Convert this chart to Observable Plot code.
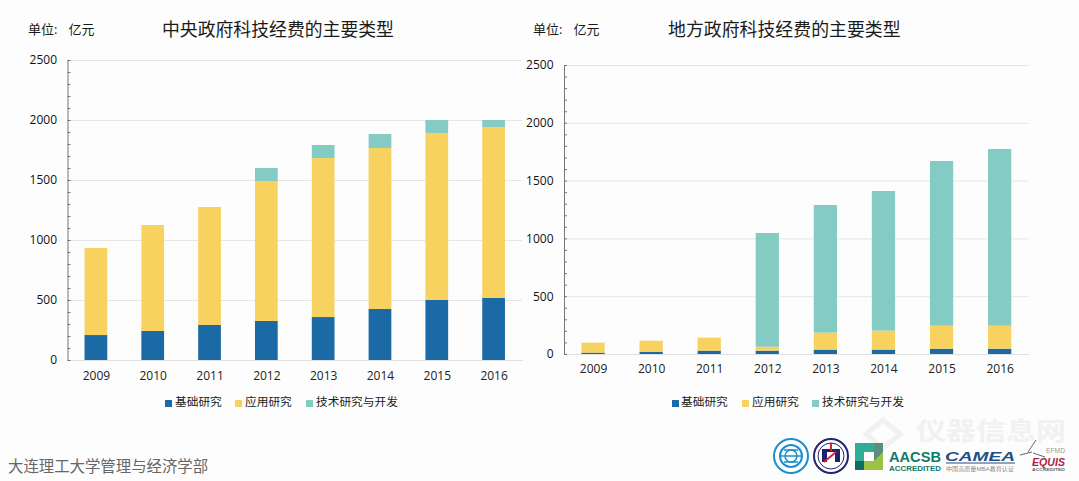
<!DOCTYPE html>
<html><head><meta charset="utf-8">
<script src="https://cdn.jsdelivr.net/npm/d3@7"></script>
<script src="https://cdn.jsdelivr.net/npm/@observablehq/plot@0.6"></script>
<style>
html,body{margin:0;padding:0;background:#fdfdfd}
#page{position:relative;width:1079px;height:481px;overflow:hidden;background:#fdfdfd;font-family:"Open Sans","Noto Sans CJK SC",sans-serif;color:#222}
#page>svg,.abs{position:absolute}
.abs{white-space:nowrap;line-height:1}
.sw{position:absolute;width:7px;height:7px}
</style></head><body>
<div id="page"></div>
<script>
const years = ["2009","2010","2011","2012","2013","2014","2015","2016"];
const seriesNames = ["基础研究","应用研究","技术研究与开发"];
const seriesColors = ["#1b6aa5","#f8d25f","#84cbc3"];
const centralBasic = [208,242,292,325,358,425,500,517];
const centralApplied = [725,883,983,1167,1325,1342,1392,1425];
const centralTech = [0,0,0,108,109,116,108,58];
const localBasic = [12,20,29,29,38,38,46,46];
const localApplied = [86,95,112,34,147,164,199,199];
const localTech = [0,0,0,984,1104,1208,1425,1528];
const majorTicks = [0,500,1000,1500,2000,2500];
const minorTicks = d3.range(0,2501,100);

const page = document.getElementById("page");
const FONT = '"Open Sans","Noto Sans CJK SC",sans-serif';

function chart(cols, o){
  const rows = [];
  years.forEach((y,i)=>cols.forEach((c,k)=>rows.push({year:y,series:seriesNames[k],value:c[i]})));
  const p = Plot.plot({
    width:o.width, height:o.height,
    marginLeft:o.ml, marginRight:o.mr, marginTop:o.mt, marginBottom:o.mb,
    style:{fontFamily:FONT,fontSize:"12px",background:"transparent",color:"#222"},
    x:{domain:years,paddingInner:0.6,paddingOuter:0.3,round:false,label:null},
    y:{domain:[0,2500],label:null},
    color:{domain:seriesNames,range:seriesColors},
    marks:[
      Plot.ruleY(majorTicks.slice(1),{stroke:"#e6e6e6",strokeWidth:1}),
      Plot.barY(rows,{x:"year",y:"value",fill:"series",z:"series"}),
      Plot.frame({anchor:"bottom",stroke:"#e0e0e0"}),
      Plot.ruleY(minorTicks,{stroke:"#777",strokeWidth:1,insetRight:o.width-o.ml-o.mr-3}),
      Plot.frame({anchor:"left",stroke:"#777"}),
      Plot.axisY({ticks:majorTicks,tickSize:0,tickPadding:11,fontSize:12,fill:"#111",tickFormat:d=>String(d)}),
      Plot.axisX({tickSize:0,tickPadding:o.xpad,fontSize:12,fill:"#222"})
    ]
  });
  p.style.left=o.left+"px"; p.style.top="0px";
  page.appendChild(p);
}
chart([centralBasic,centralApplied,centralTech],{left:0,width:540,height:390,ml:67.5,mr:18,mt:60,mb:30,xpad:11});
chart([localBasic,localApplied,localTech],{left:500,width:540,height:390,ml:64,mr:11.3,mt:65,mb:36,xpad:10});

function text(s,x,yc,size,color,extra){
  const d=document.createElement("div");d.className="abs";d.textContent=s;
  d.style.cssText=`left:${x}px;top:${yc-size/2}px;font-size:${size}px;color:${color||"#222"};${extra||""}`;
  page.appendChild(d);return d;
}
text("中央政府科技经费的主要类型",162,30,17.85,"#1a1a1a");
text("地方政府科技经费的主要类型",668,30,17.9,"#1a1a1a");
text("单位: 亿元",28,29,13,"#1a1a1a","word-spacing:7.6px;");
text("单位: 亿元",533,29,13,"#1a1a1a","word-spacing:7.6px;");
text("大连理工大学管理与经济学部",8,467,15.4,"#666");

function legend(swX,txtX){
  seriesNames.forEach((n,i)=>{
    const s=document.createElement("div");s.className="sw";
    s.style.left=swX[i]+"px";s.style.top="400px";s.style.background=seriesColors[i];page.appendChild(s);
    text(n,txtX[i],402,11.7,"#1a1a1a");
  });
}
legend([165,235,306],[175,245,316]);
legend([672,742,812],[681,752,822]);

const logos = document.createElement("div");
logos.className="abs";logos.style.left="0";logos.style.top="0";
logos.innerHTML=`<svg width="1079" height="481" style="position:absolute;left:0;top:0;font-family:'Liberation Sans','Noto Sans CJK SC',sans-serif">
<text x="916" y="440" font-size="25" font-weight="700" fill="#f1f1f1" textLength="150" lengthAdjust="spacingAndGlyphs" font-family="Noto Sans CJK SC">仪器信息网</text>
<path d="M866 434 l17 -14 l17 14 l-17 14z" fill="none" stroke="#f1f1f1" stroke-width="5"/>
<circle cx="791" cy="456" r="17" fill="#fff" stroke="#1b8fd0" stroke-width="2"/>
<circle cx="791" cy="456" r="11" fill="none" stroke="#1b8fd0" stroke-width="2"/>
<circle cx="791" cy="456" r="6" fill="none" stroke="#1b8fd0" stroke-width="1.5"/>
<path d="M780 456h22M784 450h14M784 462h14" stroke="#1b8fd0" stroke-width="1.5"/>
<circle cx="831" cy="456" r="17" fill="#fff" stroke="#23246e" stroke-width="2"/>
<circle cx="831" cy="456" r="13" fill="#fff" stroke="#23246e" stroke-width="1"/>
<rect x="822" y="449" width="18" height="13" fill="#1d2370"/><rect x="827" y="452" width="8" height="10" fill="#fff"/>
<path d="M824 462l12-10" stroke="#d8232a" stroke-width="2"/><path d="M831 443v8" stroke="#d8232a" stroke-width="2"/>
<rect x="855" y="443" width="28" height="27" fill="#9cc243"/>
<path d="M855 443h28l-9 9h-10v9l-9 9z" fill="#2fae97"/>
<rect x="864" y="452" width="10" height="9" fill="#fff"/>
<rect x="855" y="461" width="9" height="9" fill="#0f6e5a"/>
<path d="M874 443h9v9l-9 9z" fill="#5a8f7f"/>
<text x="889" y="461.500" font-size="14" font-weight="700" fill="#0f7a68" textLength="52" lengthAdjust="spacingAndGlyphs">AACSB</text>
<text x="889" y="471" font-size="6.500" font-weight="700" fill="#0f7a68" textLength="52" lengthAdjust="spacingAndGlyphs">ACCREDITED</text>
<text x="945" y="461" font-size="13.500" font-weight="700" font-style="italic" fill="#1f4e86" textLength="70" lengthAdjust="spacingAndGlyphs">CAMEA</text>
<path d="M946 463h69" stroke="#1f4e86" stroke-width="1"/>
<text x="946" y="470.500" font-size="5.500" fill="#888" textLength="68" lengthAdjust="spacingAndGlyphs">中国高质量MBA教育认证</text>
<path d="M1020 455L1032 452M1036 440L1028 452M1033 453L1045 457" stroke="#666" stroke-width="1" fill="none"/>
<text x="1046" y="453" font-size="7.500" fill="#999" textLength="19" lengthAdjust="spacingAndGlyphs">EFMD</text>
<text x="1032" y="466" font-size="11.500" font-weight="700" font-style="italic" fill="#b0243f" textLength="33" lengthAdjust="spacingAndGlyphs">EQUIS</text>
<text x="1032" y="471" font-size="3" font-weight="700" fill="#666" textLength="33" lengthAdjust="spacingAndGlyphs">ACCREDITED</text>
</svg>`;
page.appendChild(logos);
</script>
</body></html>
